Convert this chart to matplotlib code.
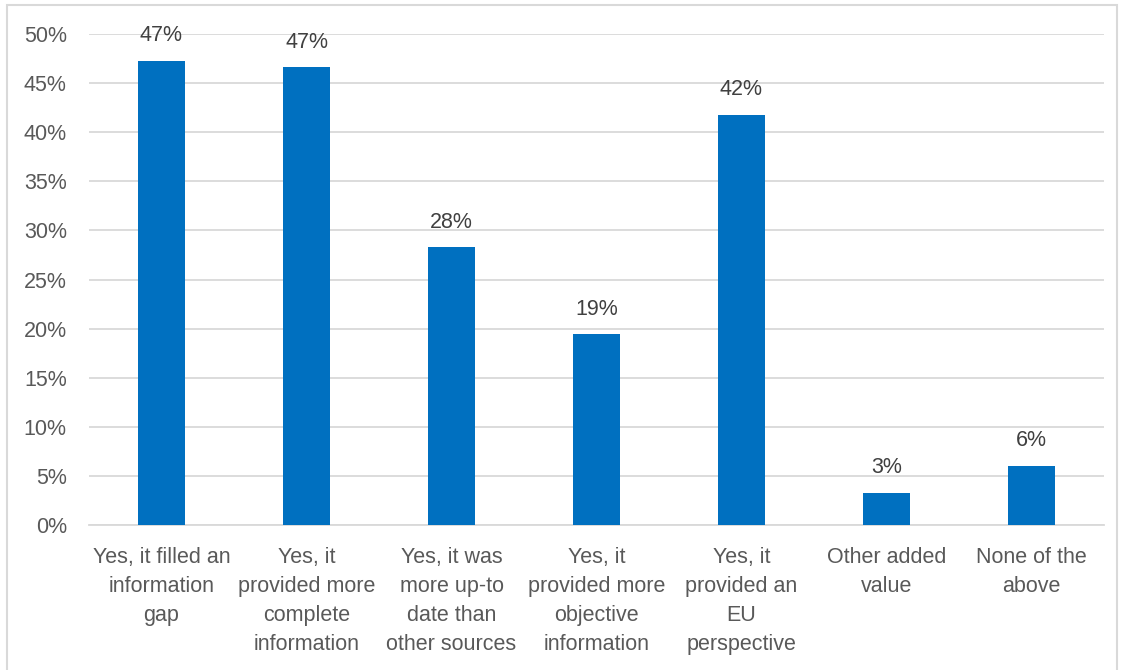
import matplotlib
matplotlib.use("Agg")
import matplotlib.pyplot as plt
from matplotlib.patches import Rectangle

# survey answers and share of respondents (%)
categories = [
    "Yes, it filled an\ninformation\ngap",
    "Yes, it\nprovided more\ncomplete\ninformation",
    "Yes, it was\nmore up-to\ndate than\nother sources",
    "Yes, it\nprovided more\nobjective\ninformation",
    "Yes, it\nprovided an\nEU\nperspective",
    "Other added\nvalue",
    "None of the\nabove",
]
values = [47.3, 46.6, 28.3, 19.4, 41.8, 3.3, 6.0]
yticks = [0, 5, 10, 15, 20, 25, 30, 35, 40, 45, 50]

text_color = "#595959"
bar_color = "#0070C0"
grid_color = "#D9D9D9"
fs = 15.5

plt.rcParams["font.family"] = ["Liberation Sans", "DejaVu Sans"]

W, H = 1121, 670
fig = plt.figure(figsize=(W / 100, H / 100), dpi=100)
ax = fig.add_axes([89 / W, 1 - 525 / H, (1104 - 89) / W, (525 - 34) / H])

x = range(len(categories))
bars = ax.bar(x, values, width=0.32, color=bar_color, zorder=3)

for b, v in zip(bars, values):
    ax.annotate(f"{round(v):.0f}%", (b.get_x() + b.get_width() / 2, v),
                xytext=(0, 10.5), textcoords="offset points",
                ha="center", va="bottom", fontsize=fs, color="#404040")

ax.set_xlim(-0.5, len(categories) - 0.5)
ax.set_ylim(0, 50)
ax.set_yticks(yticks)
ax.set_yticklabels([f"{t}%" for t in yticks])
ax.set_xticks(list(x))
ax.set_xticklabels(categories, linespacing=1.5)

ax.grid(axis="y", color=grid_color, linewidth=1.3, zorder=0)
for s in ["top", "right", "left"]:
    ax.spines[s].set_visible(False)
ax.spines["bottom"].set_color(grid_color)
ax.spines["bottom"].set_linewidth(1.3)
ax.tick_params(axis="both", length=0, labelsize=fs, colors=text_color)
ax.tick_params(axis="y", pad=16)
ax.tick_params(axis="x", pad=16)

# chart frame
fig.patches.append(Rectangle((7 / W, -0.05), (1117 - 7) / W, 1.05 - 5 / H,
                             transform=fig.transFigure, fill=False,
                             edgecolor="#D9D9D9", linewidth=1.5))

fig.savefig("out.png", dpi=100, facecolor="white")
